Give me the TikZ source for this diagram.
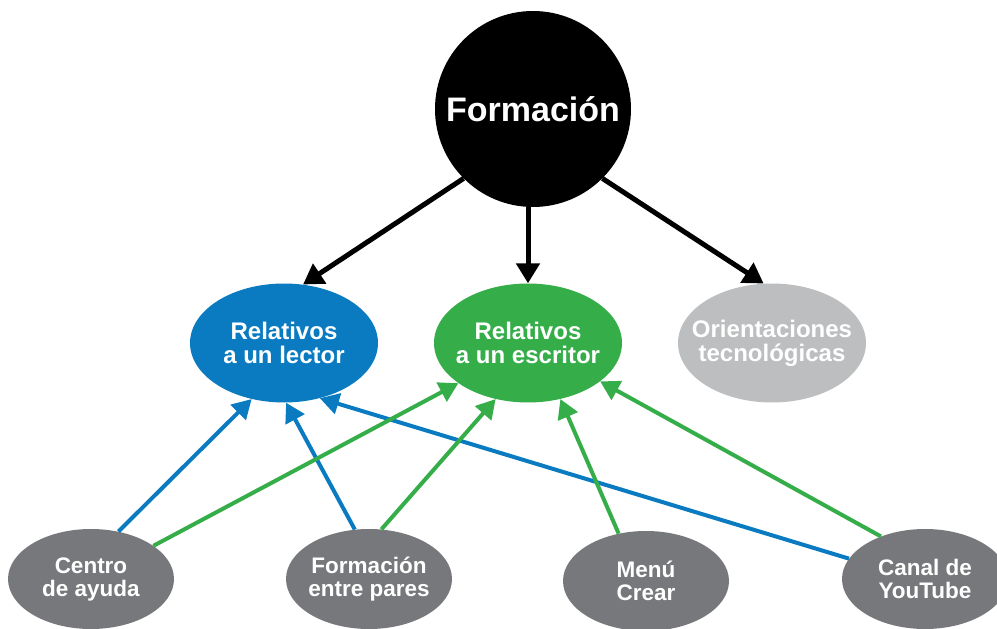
\documentclass[tikz,border=0pt]{standalone}
\usepackage{fontspec}
\setmainfont{Liberation Sans}
\usetikzlibrary{arrows.meta, shapes.geometric, positioning}
\definecolor{lectorblue}{RGB}{10,123,193}
\definecolor{escritorgreen}{RGB}{53,174,74}
\definecolor{orientgray}{RGB}{188,190,192}
\definecolor{recursogray}{RGB}{119,120,123}

\begin{document}
\begin{tikzpicture}[
  x=1pt, y=-1pt,
  root/.style={circle, fill=black, text=white, minimum size=196pt, inner sep=0pt,
               font=\fontsize{34}{36}\selectfont\bfseries},
  group/.style={ellipse, text=white, minimum width=188pt, minimum height=119pt,
                inner xsep=-20pt, inner ysep=0pt, align=center,
                font=\fontsize{24}{24}\selectfont\bfseries},
  source/.style={ellipse, fill=recursogray, text=white,
                 minimum width=166pt, minimum height=100pt,
                 inner xsep=-20pt, inner ysep=0pt, align=center,
                 font=\fontsize{22.5}{23}\selectfont\bfseries},
  arr/.style={-{Triangle[length=20pt,width=23pt]}, line width=5pt},
  larr/.style={-{Triangle[length=19pt,width=21pt]}, line width=4pt, lectorblue},
  earr/.style={-{Triangle[length=19pt,width=21pt]}, line width=4pt, escritorgreen}
]
\useasboundingbox (0,0) rectangle (997,629);

\node[root] (formacion) at (533,109) {Formación};

\node[group, fill=lectorblue] (lector) at (284,343) {Relativos\\a un lector};
\node[group, fill=escritorgreen] (escritor) at (528,343) {Relativos\\a un escritor};
\node[group, fill=orientgray] (orienta) at (772,343) {Orientaciones\\tecnológicas};

\node[source] (centro) at (91,579) {Centro\\de ayuda};
\node[source] (pares) at (369,579) {Formación\\entre pares};
\node[source] (menu) at (646,581) {Menú\\Crear};
\node[source] (canal) at (925,579) {Canal de\\YouTube};

% from the root
\draw[arr] (formacion.225) -- (lector.72);
\draw[arr] (formacion.south -| escritor.north) -- (escritor.north);
\draw[arr] (formacion.315) -- (orienta.98);

% resources
\foreach \a/\b in {centro.60/lector.240, pares.106/lector.272, canal.165/lector.303}
  \draw[larr] (\a) -- (\b);
\foreach \a/\b in {centro.28/escritor.210, pares.76/escritor.240,
                   menu.120/escritor.300, canal.136/escritor.332}
  \draw[earr] (\a) -- (\b);
\end{tikzpicture}
\end{document}
